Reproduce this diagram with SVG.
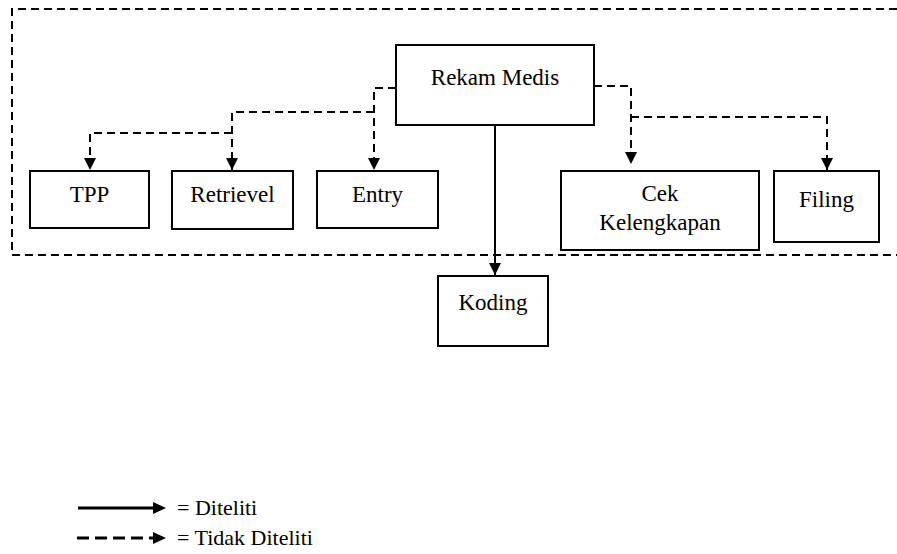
<svg xmlns="http://www.w3.org/2000/svg" width="897" height="554" viewBox="0 0 897 554">
<style>
.box{fill:#fff;stroke:#000;stroke-width:2}
text{font-family:'Liberation Serif','Times New Roman',serif;font-size:23px;fill:#000}
.t{text-anchor:middle}
.lg{font-size:22px}
.dash{fill:none;stroke:#000;stroke-width:2;stroke-dasharray:8 5}
.solid{fill:none;stroke:#000;stroke-width:2}
</style>
<defs>
<marker id="ah" markerWidth="13" markerHeight="12" refX="12" refY="6" orient="auto" markerUnits="userSpaceOnUse" viewBox="0 0 13 12">
<path d="M0,0 L12,6 L0,12 Z" fill="#000"/>
</marker>
</defs>
<g id="boundary">
<path class="dash" d="M897,9 H12 V255 H897"/>
</g>
<g id="connectors">
<path class="solid" d="M495,125 V275" marker-end="url(#ah)"/>
<path class="dash" d="M396,88 H374 V170" marker-end="url(#ah)"/>
<path class="dash" d="M374,112 H232 V170" marker-end="url(#ah)"/>
<path class="dash" d="M232,133 H90 V170" marker-end="url(#ah)"/>
<path class="dash" d="M594,86 H631 V164" marker-end="url(#ah)"/>
<path class="dash" d="M631,117 H827 V170" marker-end="url(#ah)"/>
</g>
<g id="rekam-medis">
<rect class="box" x="396" y="45" width="198" height="80"/>
<text class="t" x="495" y="85">Rekam Medis</text>
</g>
<g id="tpp">
<rect class="box" x="30" y="171" width="119" height="57"/>
<text class="t" x="89.5" y="202">TPP</text>
</g>
<g id="retrievel">
<rect class="box" x="172" y="171" width="121" height="58"/>
<text class="t" x="232.5" y="202">Retrievel</text>
</g>
<g id="entry">
<rect class="box" x="317" y="171" width="121" height="57"/>
<text class="t" x="377.5" y="202">Entry</text>
</g>
<g id="cek-kelengkapan">
<rect class="box" x="561" y="171" width="198" height="79"/>
<text class="t" x="660" y="201">Cek</text>
<text class="t" x="660" y="230">Kelengkapan</text>
</g>
<g id="filing">
<rect class="box" x="774" y="171" width="105" height="71"/>
<text class="t" x="826.5" y="207">Filing</text>
</g>
<g id="koding">
<rect class="box" x="438" y="276" width="110" height="70"/>
<text class="t" x="493" y="310">Koding</text>
</g>
<g id="legend">
<path d="M78,508 H155" stroke="#000" stroke-width="3" fill="none"/>
<path d="M153,502 L166,508 L153,514 Z" fill="#000"/>
<path d="M77,538 H155" stroke="#000" stroke-width="3" fill="none" stroke-dasharray="12 6"/>
<path d="M153,532 L166,538 L153,544 Z" fill="#000"/>
<text class="lg" x="177" y="515">= Diteliti</text>
<text class="lg" x="177" y="545">= Tidak Diteliti</text>
</g>
</svg>
